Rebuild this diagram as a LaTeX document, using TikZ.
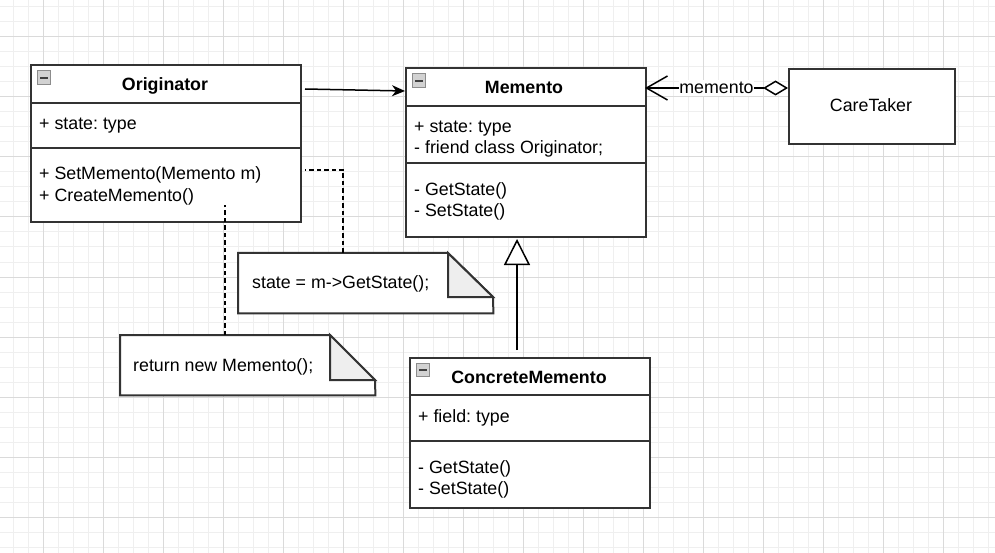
\documentclass[tikz,border=0pt]{standalone}
\usepackage{fontspec}
\setmainfont{Liberation Sans}
\usetikzlibrary{arrows.meta,calc}
\frenchspacing
\definecolor{gridminor}{HTML}{EFEFEF}
\definecolor{gridmajor}{HTML}{DADADA}
\definecolor{boxline}{HTML}{333333}
\definecolor{foldfill}{HTML}{EEEEEE}
\definecolor{iconfill}{HTML}{D2D2D2}
\definecolor{iconline}{HTML}{8C8C8C}
\begin{document}
\begin{tikzpicture}[x=1pt,y=-1pt,
  classbox/.style={draw=boxline, line width=2pt, fill=white, inner sep=0pt, anchor=north west},
  divider/.style={draw=boxline, line width=2pt},
  txt/.style={inner sep=0pt, anchor=west, text height=12.7pt, text depth=0pt, font=\fontsize{17.8}{20}\selectfont},
  ctxt/.style={txt, anchor=center},
  ttl/.style={ctxt, font=\fontsize{17.8}{20}\selectfont\bfseries},
  conn/.style={draw=black, line width=1.5pt},
  dashconn/.style={draw=black, line width=1.5pt, dash pattern=on 4.5pt off 3pt},
  noteline/.style={draw=boxline, line width=2pt},
  minusicon/.pic={\draw[iconline, fill=iconfill, line width=1pt] (0,0) rectangle (13.5,13.5);
                   \draw[black!75, line width=2pt] (3,6.75) -- (10.5,6.75);}
]
\useasboundingbox (0,0) rectangle (995,553);
\fill[white] (0,0) rectangle (995,553);
% grid
\foreach \x in {13,28,...,988} \draw[gridminor, line width=1pt] (\x,0) -- (\x,553);
\foreach \y in {7,22,...,547} \draw[gridminor, line width=1pt] (0,\y) -- (995,\y);
\foreach \x in {43,103,...,943} \draw[gridmajor, line width=1pt] (\x,0) -- (\x,553);
\foreach \y in {37,97,...,517} \draw[gridmajor, line width=1pt] (0,\y) -- (995,\y);

% Originator
\node[classbox, minimum width=270pt, minimum height=157pt] (orig) at (30,64) {};
\draw[divider] (30,103) -- (300,103);
\draw[divider] (30,148) -- (300,148);
\pic at (37,71) {minusicon};
\node[ttl] (origt) at (165,84) {Originator};
\node[txt] (origa) at (39,123) {+ state: type};
\node[txt] (origm1) at (39,173) {+ SetMemento(Memento m)};
\node[txt] (origm2) at (39,195) {+ CreateMemento()};

% Memento
\node[classbox, minimum width=240pt, minimum height=169pt] (mem) at (405,67) {};
\draw[divider] (405,106) -- (645,106);
\draw[divider] (405,163) -- (645,163);
\pic at (412,74) {minusicon};
\node[ttl] (memt) at (524,87) {Memento};
\node[txt] (mema1) at (414,126) {+ state: type};
\node[txt] (mema2) at (414,147) {- friend class Originator;};
\node[txt] (memm1) at (414,189) {- GetState()};
\node[txt] (memm2) at (414,210) {- SetState()};

% ConcreteMemento
\node[classbox, minimum width=240pt, minimum height=150pt] (conc) at (409,357) {};
\draw[divider] (409,395) -- (649,395);
\draw[divider] (409,441) -- (649,441);
\pic at (416,363) {minusicon};
\node[ttl] (conct) at (529,377) {ConcreteMemento};
\node[txt] (conca) at (418,416) {+ field: type};
\node[txt] (concm1) at (418,467) {- GetState()};
\node[txt] (concm2) at (418,488) {- SetState()};

% CareTaker
\node[classbox, minimum width=166pt, minimum height=75pt] (care) at (788,68) {};
\node[ctxt] (caret) at (871,105) {CareTaker};

% Note 1
\node[inner sep=0pt, minimum width=255pt, minimum height=60pt, anchor=north west] (note1) at (238,253) {};
\draw[noteline, fill=white] (note1.north west) -- ++(210,0) -- ++(45,44) -- (note1.south east) -- (note1.south west) -- cycle;
\draw[noteline, fill=foldfill] ($(note1.north west)+(210,0)$) -- ++(0,44) -- ++(45,0) -- cycle;
\node[txt] (note1t) at (252,282) {state = m->GetState();};

% Note 2
\node[inner sep=0pt, minimum width=255pt, minimum height=60pt, anchor=north west] (note2) at (120,335) {};
\draw[noteline, fill=white] (note2.north west) -- ++(210,0) -- ++(45,45) -- (note2.south east) -- (note2.south west) -- cycle;
\draw[noteline, fill=foldfill] ($(note2.north west)+(210,0)$) -- ++(0,45) -- ++(45,0) -- cycle;
\node[txt] (note2t) at (133,365) {return new Memento();};

% connectors
\coordinate (a1s) at (305,89);
\coordinate (a1e) at (405,91);
\draw[conn, -{Stealth[length=13pt, width=11pt, inset=4pt]}] (a1s) -- (a1e);

\coordinate (m1) at (645,88);
\coordinate (c1) at (788,88);
\draw[conn, {Straight Barb[length=21pt, width=24pt]}-{Diamond[length=25pt, width=15pt, fill=white]}] (m1) -- (c1)
  node[pos=0.5, fill=white, inner sep=0.5pt, text height=12.7pt, text depth=2pt, font=\fontsize{17.8}{20}\selectfont] (lbl) {memento};

\coordinate (g1) at (517,350);
\coordinate (g2) at (517,239);
\draw[conn, -{Triangle[length=26pt, width=26pt, fill=white]}] (g1) -- (g2);

\coordinate (d1) at (305,170);
\draw[dashconn] ($(note1.north west)+(105,0)$) |- (d1);
\coordinate (d2) at (225,205);
\draw[dashconn] ($(note2.north west)+(105,0)$) -- (d2);
\end{tikzpicture}
\end{document}
